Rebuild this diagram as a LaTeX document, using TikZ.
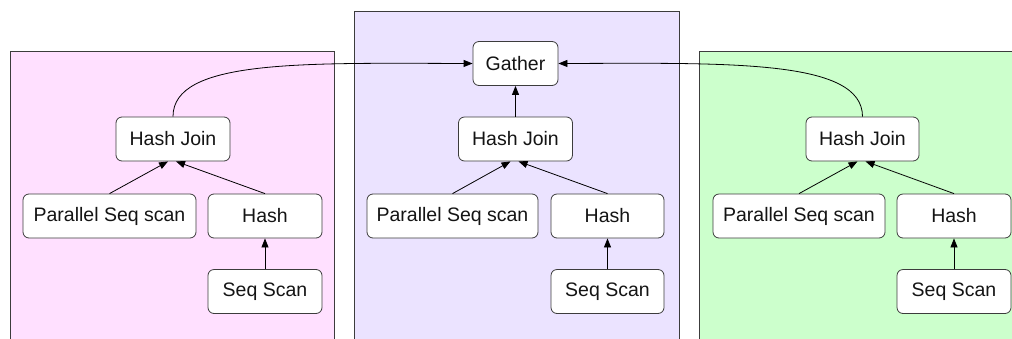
\documentclass[tikz,border=0pt]{standalone}
\usepackage{fontspec}
\setmainfont{Liberation Sans}
\usetikzlibrary{arrows.meta}
\definecolor{pinkbg}{RGB}{255,224,255}
\definecolor{lavbg}{RGB}{235,227,255}
\definecolor{greenbg}{RGB}{204,255,204}
\definecolor{edgegray}{RGB}{60,60,60}
\definecolor{txt}{RGB}{20,20,20}
\tikzset{
  panel/.style={draw=edgegray, line width=0.9pt},
  opbox/.style={draw=edgegray, fill=white, rounded corners=6pt, line width=0.8pt,
    minimum height=44pt, inner sep=0pt, text=txt,
    font=\fontsize{19.5pt}{22pt}\selectfont},
  flow/.style={draw=black, line width=0.8pt, -{Triangle[length=9pt,width=7pt]}}
}
\begin{document}
\begin{tikzpicture}[x=1pt,y=-1pt]
\useasboundingbox (0,0) rectangle (1012,338);
\begin{scope}
\clip (0,0) rectangle (1012,338);
\filldraw[panel, fill=pinkbg] (10,51) rectangle (334,345);
\filldraw[panel, fill=lavbg] (354,11) rectangle (679,345);
\filldraw[panel, fill=greenbg] (699,51) rectangle (1025,345);
\end{scope}

% middle
\node[opbox, minimum width=85pt] (g) at (515.5,63.5) {Gather};
\node[opbox, minimum width=114pt] (hj2) at (515.5,139) {Hash Join};
\node[opbox, minimum width=171pt] (ps2) at (452.5,216) {Parallel Seq scan};
\node[opbox, minimum width=113pt] (h2) at (607.5,216) {Hash};
\node[opbox, minimum width=113pt] (s2) at (607.5,291.5) {Seq Scan};

% left
\node[opbox, minimum width=114pt] (hj1) at (173,139) {Hash Join};
\node[opbox, minimum width=173pt] (ps1) at (109.5,216) {Parallel Seq scan};
\node[opbox, minimum width=114pt] (h1) at (265,216) {Hash};
\node[opbox, minimum width=114pt] (s1) at (265,291.5) {Seq Scan};

% right
\node[opbox, minimum width=113pt] (hj3) at (862.5,139) {Hash Join};
\node[opbox, minimum width=172pt] (ps3) at (799,216) {Parallel Seq scan};
\node[opbox, minimum width=114pt] (h3) at (954,216) {Hash};
\node[opbox, minimum width=114pt] (s3) at (954,291.5) {Seq Scan};

% edges
\foreach \i in {1,2,3}{
  \draw[flow] (s\i.north) -- (h\i.south);
  \draw[flow] (ps\i.north) -- ([xshift=-5pt]hj\i.south);
  \draw[flow] (h\i.north) -- ([xshift=3pt]hj\i.south);
}
\draw[flow] (hj2.north) -- (g.south);
\draw[flow] (hj1.north) .. controls ++(0,-57) and (300,63) .. (g.west);
\draw[flow] (hj3.north) .. controls ++(0,-57) and (731,63) .. (g.east);
\end{tikzpicture}
\end{document}
